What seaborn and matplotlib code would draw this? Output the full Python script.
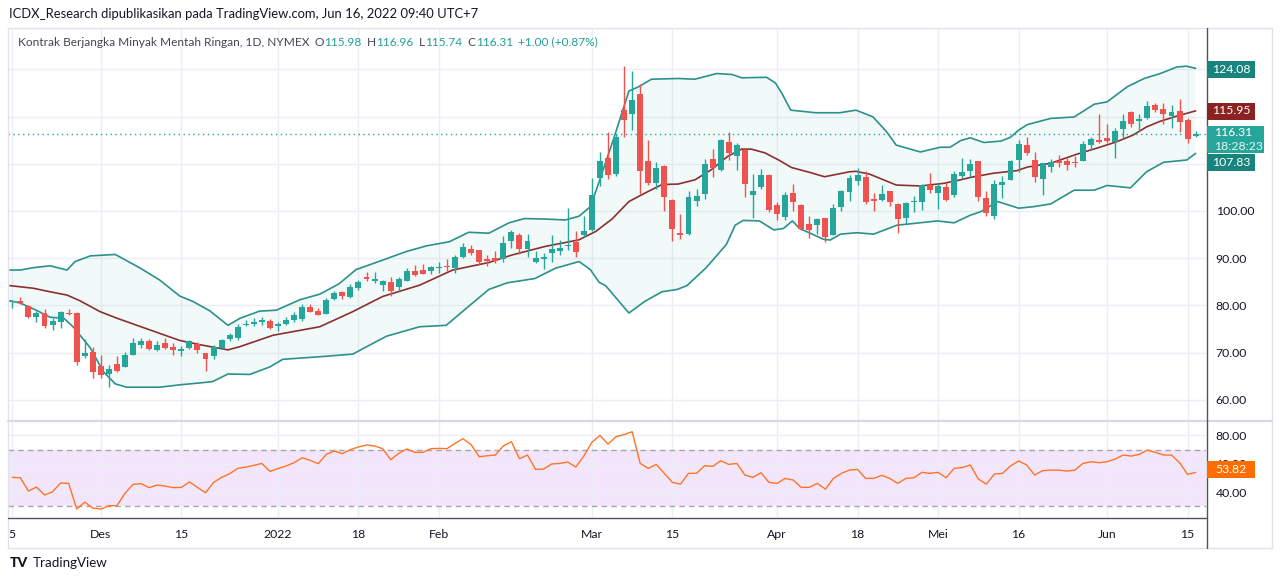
import matplotlib
matplotlib.use("Agg")
import matplotlib.pyplot as plt
import seaborn as sns
import numpy as np
import pandas as pd
from matplotlib.patches import Rectangle
from matplotlib.lines import Line2D

# ---------------- data ----------------
opens = [80.7, 81.0, 79.8, 77.5, 78.4, 75.8, 76.4, 78.5, 78.5, 69.2,
         70.1, 67.1, 65.5, 67.6, 66.9, 69.6, 71.7, 72.5, 70.6, 72.0,
         71.3, 70.3, 71.1, 71.9, 69.9, 69.2, 71.1, 72.9, 73.2, 75.8,
         76.0, 76.4, 76.8, 75.6, 76.0, 77.0, 77.2, 79.6, 78.9, 78.3,
         81.3, 82.8, 81.7, 83.6, 86.0, 85.1, 84.4, 85.0, 84.0, 85.2,
         87.2, 87.5, 87.4, 88.0, 88.3, 87.9, 90.2, 92.0, 91.8, 89.9,
         90.0, 89.9, 93.7, 95.0, 92.0, 89.1, 89.9, 91.2, 91.6, 92.5,
         93.5, 94.9, 96.0, 107.0, 111.3, 107.8, 121.4, 120.5, 124.7, 110.6,
         106.0, 109.5, 102.3, 95.3, 95.1, 102.1, 103.5, 111.0, 108.6, 114.6,
         111.7, 113.0, 103.4, 105.0, 107.6, 101.3, 98.8, 103.8, 101.3, 97.2,
         97.1, 98.5, 94.9, 100.9, 104.1, 106.4, 107.1, 102.5, 102.3, 104.2,
         101.5, 98.6, 101.8, 102.0, 105.4, 103.9, 105.0, 103.4, 107.5, 108.5,
         110.6, 102.8, 99.0, 105.5, 106.6, 110.8, 114.0, 110.8, 106.8, 109.3,
         110.6, 110.6, 110.4, 110.6, 114.0, 115.0, 115.4, 114.6, 117.3, 121.0,
         119.0, 119.6, 122.4, 121.6, 120.2, 121.2, 119.2, 115.98]
highs = [81.1, 81.8, 80.0, 78.9, 79.3, 77.3, 78.9, 79.3, 78.7, 72.9,
         71.2, 69.6, 67.4, 69.3, 70.1, 73.1, 73.1, 72.9, 72.4, 73.2,
         72.0, 71.5, 72.7, 72.2, 69.9, 71.7, 72.9, 74.1, 76.0, 76.9,
         77.3, 77.5, 77.2, 76.4, 77.5, 78.6, 80.3, 80.4, 79.4, 81.5,
         83.1, 83.1, 84.6, 85.4, 87.0, 87.1, 85.4, 86.0, 86.0, 87.9,
         88.6, 88.8, 88.4, 89.1, 89.8, 90.6, 93.3, 92.7, 91.8, 90.7,
         91.6, 94.7, 96.0, 95.3, 95.1, 91.6, 91.1, 94.9, 93.8, 100.7,
         95.7, 98.9, 106.9, 112.5, 116.8, 116.3, 130.6, 129.6, 126.8, 115.0,
         110.3, 109.7, 102.5, 99.3, 104.2, 104.6, 111.1, 113.2, 115.3, 116.8,
         114.3, 113.3, 107.8, 108.9, 107.8, 101.8, 104.1, 105.7, 101.4, 98.9,
         98.6, 98.6, 101.5, 104.4, 107.6, 109.2, 108.5, 103.9, 105.5, 104.2,
         101.6, 101.8, 103.2, 105.7, 108.1, 105.9, 106.0, 108.5, 111.3, 111.1,
         110.6, 104.2, 106.6, 107.4, 110.8, 115.0, 115.6, 112.5, 110.2, 111.1,
         111.9, 111.3, 111.7, 114.9, 115.7, 120.5, 118.4, 117.5, 120.5, 121.2,
         120.5, 123.3, 122.9, 122.9, 122.4, 123.7, 119.6, 116.96]
lows = [79.4, 80.4, 77.3, 76.6, 75.2, 74.8, 75.3, 78.0, 67.4, 68.9,
        64.6, 64.6, 62.7, 65.9, 66.9, 69.5, 71.1, 70.5, 70.4, 70.8,
        69.6, 69.3, 70.7, 69.9, 66.2, 68.7, 70.7, 72.4, 72.7, 75.7,
        75.6, 75.9, 75.1, 74.5, 75.8, 76.6, 76.8, 78.6, 77.9, 78.2,
        81.2, 81.4, 81.6, 83.2, 85.1, 84.7, 83.0, 82.1, 83.1, 85.1,
        86.3, 86.6, 86.7, 86.9, 87.2, 86.9, 90.0, 90.7, 88.6, 88.4,
        89.0, 89.3, 92.1, 90.9, 90.2, 89.0, 87.7, 89.3, 90.7, 91.8,
        90.3, 94.6, 95.7, 105.3, 106.7, 107.4, 115.7, 117.1, 103.7, 105.5,
        104.6, 99.9, 93.7, 94.1, 94.9, 101.1, 102.5, 107.3, 108.5, 110.7,
        108.7, 103.0, 98.6, 104.6, 99.8, 98.0, 98.2, 100.1, 95.9, 94.2,
        95.1, 93.5, 94.9, 99.9, 102.2, 105.5, 101.5, 100.1, 102.2, 101.1,
        95.4, 97.2, 99.8, 100.2, 103.9, 100.4, 102.2, 103.0, 106.9, 107.3,
        102.2, 98.9, 98.3, 102.8, 106.5, 108.3, 111.8, 106.2, 103.4, 108.3,
        109.4, 108.7, 109.4, 110.5, 113.0, 114.3, 114.3, 111.2, 115.4, 117.8,
        117.0, 119.4, 120.9, 118.4, 117.6, 116.8, 114.5, 115.74]
closes = [81.0, 80.6, 77.5, 78.4, 75.7, 76.7, 78.7, 78.3, 68.1, 69.9,
          66.0, 65.3, 66.6, 66.2, 69.6, 72.0, 72.5, 70.8, 71.7, 71.1,
          70.6, 70.8, 72.4, 70.6, 68.6, 71.2, 72.7, 73.8, 75.5, 76.0,
          76.5, 77.0, 75.2, 76.1, 77.0, 77.9, 79.6, 78.7, 78.0, 81.2,
          82.6, 82.1, 83.9, 85.0, 85.6, 85.6, 85.2, 83.1, 85.6, 87.3,
          86.5, 86.7, 88.2, 88.1, 88.1, 90.2, 92.3, 91.1, 89.3, 89.5,
          89.4, 93.2, 95.5, 92.0, 93.6, 90.0, 90.3, 91.9, 92.2, 92.8,
          91.4, 95.7, 103.4, 110.6, 107.6, 115.6, 119.2, 123.6, 108.5, 106.0,
          109.2, 103.0, 96.2, 95.0, 103.0, 103.1, 109.9, 109.2, 115.0, 112.3,
          113.9, 105.7, 104.2, 107.7, 100.2, 99.3, 103.4, 102.0, 96.1, 96.0,
          98.3, 94.4, 100.6, 104.2, 106.9, 107.6, 102.0, 102.2, 103.7, 102.0,
          98.3, 101.6, 102.2, 105.4, 104.4, 105.3, 102.3, 107.8, 108.3, 109.9,
          103.0, 99.5, 105.7, 106.1, 110.6, 114.2, 112.3, 107.1, 110.1, 110.4,
          110.2, 109.8, 110.2, 114.2, 115.2, 114.6, 114.9, 116.9, 119.0, 118.4,
          119.4, 122.2, 121.3, 120.5, 120.9, 118.9, 115.2, 116.31]

rsi = [50.35, 50.1, 40.7, 43.5, 37.9, 40.2, 46.4, 46.1, 28.0, 32.9,
       28.7, 28.0, 30.4, 30.4, 39.1, 45.4, 45.9, 43.1, 44.9, 44.2,
       43.1, 43.3, 47.1, 43.3, 39.5, 46.8, 50.35, 52.9, 56.7, 57.6,
       58.8, 60.2, 54.6, 56.5, 58.4, 60.7, 64.2, 62.4, 60.0, 66.6,
       68.9, 67.1, 69.9, 71.8, 73.2, 72.5, 70.6, 62.8, 67.3, 70.4,
       68.0, 68.0, 70.6, 70.8, 70.6, 74.4, 77.6, 73.4, 64.9, 65.6,
       66.1, 72.5, 75.5, 63.5, 66.1, 56.0, 56.2, 59.8, 60.2, 61.2,
       57.6, 65.4, 75.1, 80.0, 73.8, 79.1, 80.5, 82.6, 60.2, 56.7,
       59.5, 53.2, 46.8, 45.6, 53.2, 53.2, 58.6, 58.1, 62.1, 59.5,
       60.2, 52.0, 50.35, 53.6, 46.8, 46.1, 49.6, 48.5, 43.3, 43.3,
       46.1, 42.1, 49.6, 53.2, 55.5, 56.0, 49.6, 49.6, 51.8, 49.6,
       46.1, 49.6, 50.1, 53.9, 53.2, 53.9, 50.1, 56.7, 57.2, 59.1,
       49.2, 45.6, 52.7, 53.2, 58.4, 61.9, 59.1, 52.0, 55.1, 55.5,
       55.5, 54.8, 55.5, 60.2, 61.4, 60.7, 61.4, 63.3, 66.1, 65.4,
       66.6, 69.6, 68.0, 66.1, 66.1, 60.7, 52.5, 53.82]

upper_x = [-0.3, 1.0, 2.6, 4.7, 6.8, 7.8, 9.7, 12.8, 15.9, 18.3, 20.8, 22.5,
           24.5, 26.8, 28.3, 30.7, 32.8, 35.7, 38.2, 40.6, 42.7, 46.0, 48.9,
           51.4, 54.3, 56.7, 59.2, 61.7, 63.6, 66.2, 68.7, 70.4, 71.8, 72.9,
           74.7, 76.6, 77.8, 79.4, 82.7, 84.8, 87.5, 89.4, 90.6, 93.7, 94.8,
           95.6, 96.7, 99.8, 102.8, 104.8, 106.9, 108.6, 109.8, 112.8, 115.3,
           116.5, 117.8, 119.0, 120.7, 122.8, 124.0, 125.0, 126.1, 129.0,
           131.9, 134.4, 136.0, 138.5, 140.6, 142.6, 144.7, 145.9, 147.0]
upper_y = [87.5, 87.5, 88.0, 88.4, 87.5, 89.3, 90.5, 90.8, 87.9, 85.4, 82.0, 80.8,
           78.9, 75.8, 77.3, 78.8, 79.0, 81.2, 82.4, 84.6, 87.6, 89.6, 91.4,
           92.6, 93.5, 95.5, 95.3, 97.5, 98.4, 98.3, 98.1, 98.9, 100.9, 106.2,
           115.3, 125.4, 126.3, 127.9, 128.05, 127.9, 129.1, 128.9, 128.2, 128.3, 127.1,
           124.9, 121.35, 120.8, 120.8, 121.35, 119.95, 116.8, 113.95, 112.5, 113.5,
           113.5, 114.9, 115.5, 114.5, 114.8, 115.6, 117.1, 118.3, 119.6,
           119.9, 122.6, 123.1, 126.3, 128.05, 129.1, 130.5, 130.65, 130.2]

mid_x = [-0.3, 2.6, 4.7, 6.8, 8.4, 10.9, 13.0, 15.9, 18.3, 20.8, 23.3, 26.8,
         28.3, 32.4, 38.2, 42.3, 46.0, 50.6, 54.7, 59.2, 62.1, 66.2, 70.4,
         72.5, 74.5, 76.6, 78.6, 80.7, 82.7, 84.8, 86.8, 88.9, 90.6, 91.8,
         93.5, 95.2, 96.8, 99.0, 100.9, 104.0, 104.8, 106.5, 109.8, 112.8,
         115.7, 117.8, 119.0, 121.9, 124.8, 126.1, 129.0, 132.2, 135.1,
         137.1, 139.2, 140.9, 142.6, 144.7, 147.0]
mid_y = [84.2, 83.65, 82.9, 82.2, 81.0, 78.7, 77.3, 75.55, 74.1, 72.6, 71.7, 70.6,
         71.3, 73.7, 75.5, 78.7, 81.9, 84.3, 87.5, 89.1, 90.7, 92.5, 93.9,
         95.7, 98.3, 102.0, 103.8, 105.6, 105.7, 106.6, 108.7, 111.6, 113.1, 113.1,
         112.3, 110.8, 109.2, 108.2, 107.25, 108.3, 108.4, 107.8, 105.5, 105.3,
         105.85, 106.6, 107.1, 108.0, 108.55, 109.3, 110.1, 112.0, 113.5,
         114.6, 116.05, 117.8, 119.0, 120.1, 121.2]

lower_x = [-0.3, 1.0, 3.1, 4.7, 6.4, 7.6, 9.7, 11.3, 12.8, 14.2, 18.3, 20.8,
           23.3, 24.9, 26.8, 29.5, 32.0, 33.6, 38.6, 42.3, 43.6, 46.5, 50.6,
           53.9, 56.4, 59.2, 61.5, 64.9, 67.5, 70.4, 71.8, 72.9, 73.7, 76.6,
           78.6, 80.7, 82.6, 83.8, 86.2, 88.7, 89.8, 90.8, 92.8, 94.6, 95.8,
           96.9, 97.8, 100.8, 101.6, 102.9, 104.9, 107.0, 109.9, 111.1, 114.9,
           117.0, 119.0, 120.3, 122.4, 125.0, 126.8, 129.0, 131.9, 134.4,
           136.0, 138.9, 140.9, 143.0, 145.9, 147.0]
lower_y = [81.0, 80.5, 78.9, 77.5, 77.3, 75.4, 71.0, 66.0, 63.4, 62.7, 62.7, 63.2,
           63.6, 63.9, 65.5, 65.4, 67.0, 68.6, 69.2, 69.7, 70.9, 73.5, 75.5,
           75.8, 79.4, 83.4, 84.8, 85.7, 87.9, 89.3, 87.6, 84.9, 84.2, 78.4,
           80.9, 82.9, 83.4, 84.2, 88.0, 92.9, 97.0, 98.0, 97.9, 96.0, 96.3,
           97.9, 96.3, 94.0, 93.85, 95.1, 95.4, 95.1, 97.0, 97.2, 97.9,
           97.5, 99.1, 99.85, 102.0, 100.6, 100.9, 101.5, 104.4, 104.4,
           105.4, 104.9, 108.3, 110.3, 110.8, 112.2]

tick_idx = [0, 11, 21, 33, 43, 53, 72, 82, 95, 105, 115, 125, 136, 146]
tick_labels = ["5", "Des", "15", "2022", "18", "Feb", "Mar", "15", "Apr",
               "18", "Mei", "16", "Jun", "15"]
price_ticks = [60, 70, 80, 90, 100, 110, 120, 130]
price_tick_labels = ["60.00", "70.00", "80.00", "90.00", "100.00", "", "", ""]
rsi_ticks = [40, 60, 80]
rsi_tick_labels = ["40.00", "60.00", "80.00"]
rsi_levels = [30, 70]
last_price = 116.31

header = "ICDX_Research dipublikasikan pada TradingView.com, Jun 16, 2022 09:40 UTC+7"
title = "Kontrak Berjangka Minyak Mentah Ringan, 1D, NYMEX"
ohlc_text = [("O", "115.98"), ("H", "116.96"), ("L", "115.74"), ("C", "116.31")]
change_text = "+1.00 (+0.87%)"
badges_main = [("124.08", "#17847e"), ("115.95", "#8a2222"), ("107.83", "#17847e")]

# ---------------- style ----------------
sns.set_theme(style="white")
plt.rcParams["font.family"] = ["Lato", "DejaVu Sans"]

UP, DOWN = "#26a69a", "#ef5350"
BAND = "#2b918c"
MID = "#8c2f2f"
GRID = "#ebeff5"
TXT = "#131722"

W, H = 1280, 581
fig = plt.figure(figsize=(W / 100, H / 100), dpi=100)
fig.patch.set_facecolor("white")

def fx(px):
    return px / W

def fy(py):
    return 1 - py / H

AX_L, AX_R = 8, 1206
ax = fig.add_axes([fx(AX_L), fy(420), fx(AX_R - AX_L), (420 - 28) / H])
ax2 = fig.add_axes([fx(AX_L), fy(517), fx(AX_R - AX_L), (517 - 422) / H], sharex=ax)

df = pd.DataFrame({"open": opens, "high": highs, "low": lows, "close": closes})
df["i"] = np.arange(len(df))
df["up"] = df["close"] >= df["open"]
colors = np.where(df["up"], UP, DOWN)

# Bollinger fill + lines
poly_x = np.r_[upper_x, lower_x[::-1]]
poly_y = np.r_[upper_y, lower_y[::-1]]
ax.fill(poly_x, poly_y, color="#26a69a", alpha=0.06, lw=0, zorder=1)
sns.lineplot(x=upper_x, y=upper_y, ax=ax, color=BAND, lw=1.2, sort=False, estimator=None, zorder=2)
sns.lineplot(x=lower_x, y=lower_y, ax=ax, color=BAND, lw=1.2, sort=False, estimator=None, zorder=2)
sns.lineplot(x=mid_x, y=mid_y, ax=ax, color=MID, lw=1.2, sort=False, estimator=None, zorder=2)

# candles
ax.vlines(df["i"], df["low"], df["high"], colors=colors, lw=1.0, zorder=3)
body_h = np.maximum((df["close"] - df["open"]).abs(), 0.15)
body_b = np.minimum(df["open"], df["close"])
ax.bar(df["i"], body_h, bottom=body_b, width=0.74, color=colors, lw=0, zorder=4)

# last price line
ax.axhline(last_price, color="#26a69a", lw=1.0, ls=(0, (1, 2.5)), zorder=2)

ax.set_xlim((AX_L - 12.3) / 8.05, (AX_R - 12.3) / 8.05)
ax.set_ylim(100 + (211 - 420) / 4.724, 100 + (211 - 28) / 4.724)
ax.set_xticks(tick_idx)
ax.set_yticks(price_ticks)
ax.set_yticklabels(price_tick_labels)
ax.yaxis.tick_right()
ax.tick_params(axis="y", length=0, pad=7, labelsize=8.8, labelcolor=TXT)
ax.tick_params(axis="x", length=0, labelbottom=False)
ax.grid(True, color=GRID, lw=1)
ax.set_axisbelow(True)
for s in ax.spines.values():
    s.set_visible(False)
ax.set_xlabel("")
ax.set_ylabel("")

# RSI pane
ax2.axhspan(rsi_levels[0], rsi_levels[1], color="#f3e6fc", lw=0, zorder=0)
for lv in rsi_levels:
    ax2.axhline(lv, color="#a3a6af", lw=1, ls=(0, (4, 3)), zorder=1)
sns.lineplot(x=df["i"], y=rsi, ax=ax2, color="#ff7424", lw=1.0, zorder=3)
ax2.set_ylim(60 - (517 - 463.7) / 1.4175, 60 + (463.7 - 422) / 1.4175)
ax2.set_yticks(rsi_ticks)
ax2.set_yticklabels(rsi_tick_labels)
ax2.yaxis.tick_right()
ax2.set_xticks(tick_idx)
ax2.set_xticklabels(tick_labels)
ax2.tick_params(axis="y", length=0, pad=7, labelsize=8.8, labelcolor=TXT)
ax2.tick_params(axis="x", length=0, pad=9, labelsize=8.8, labelcolor=TXT)
ax2.grid(True, color=GRID, lw=1)
ax2.set_axisbelow(True)
for s in ax2.spines.values():
    s.set_visible(False)
ax2.set_xlabel("")
ax2.set_ylabel("")

# frame lines
def hline(y, x0, x1, color, lw=1.0):
    fig.add_artist(Line2D([fx(x0), fx(x1)], [fy(y), fy(y)], transform=fig.transFigure, color=color, lw=lw))

def vline(x, y0, y1, color, lw=1.0):
    fig.add_artist(Line2D([fx(x), fx(x)], [fy(y0), fy(y1)], transform=fig.transFigure, color=color, lw=lw))

hline(28, 8, 1272, "#e0e3eb")
hline(548, 8, 1272, "#e0e3eb")
vline(8, 28, 548, "#e0e3eb")
vline(1272, 28, 548, "#e0e3eb")
hline(421, 8, 1272, "#d6d9e0", 1.6)
hline(517.5, 8, 1206, "#50535e", 1.0)
vline(1206.5, 28, 548, "#50535e", 1.0)

# badges
def badge(yc, h, color, text, x0=1207, x1=1255, sub=None):
    fig.add_artist(Rectangle((fx(x0), fy(yc + h / 2)), fx(x1 - x0), h / H,
                             transform=fig.transFigure, color=color, lw=0, zorder=5))
    if sub is None:
        fig.text(fx((x0 + x1) / 2), fy(yc), text, color="white", fontsize=8.8,
                 ha="center", va="center", zorder=6)
    else:
        fig.text(fx(1214), fy(yc - 6.5), text, color="white", fontsize=8.8,
                 ha="left", va="center", zorder=6)
        fig.text(fx(1214), fy(yc + 7.5), sub, color="#e8f6f4", fontsize=8.8,
                 ha="left", va="center", zorder=6)

badge(69.5, 17, badges_main[0][1], badges_main[0][0])
badge(111, 17, badges_main[1][1], badges_main[1][0])
badge(162, 17, badges_main[2][1], badges_main[2][0])
badge(139.5, 27, "#26a69a", "116.31", x1=1264, sub="18:28:23")
badge(469.5, 17, "#ff6d00", "53.82")

# header & legend
fig.text(fx(9), fy(14), header, fontsize=9.4, color=TXT, va="center", ha="left")

renderer = fig.canvas.get_renderer()
LEG_FS = 8.6
cursor = [18.0]

def put(txt, color, gap):
    t = fig.text(fx(cursor[0]), fy(42), txt, fontsize=LEG_FS, color=color, va="center", ha="left")
    w = t.get_window_extent(renderer).width
    cursor[0] += w + gap
    return t

put(title, "#434651", 5)
for lab, val in ohlc_text:
    put(lab, "#434651", 0.5)
    put(val, "#22a094", 5)
put(change_text, "#22a094", 0)

# footer logo
fig.text(fx(10), fy(563), "TV", fontsize=10, color=TXT, va="center", ha="left", fontweight="black")
fig.text(fx(33), fy(563), "TradingView", fontsize=9.6, color=TXT, va="center", ha="left")

fig.savefig("out.png", dpi=100, facecolor="white")
